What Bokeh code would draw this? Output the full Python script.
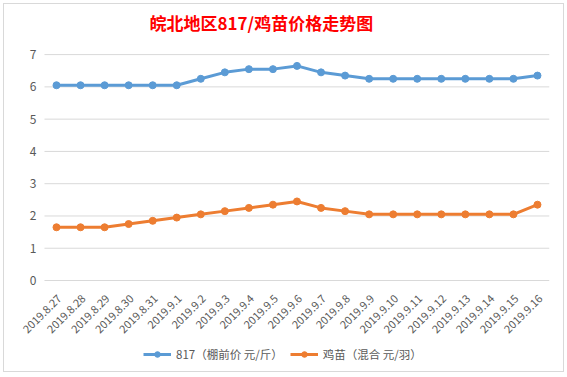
import math
from bokeh.plotting import figure
from bokeh.models import Legend, LegendItem, Title, Range1d
from bokeh.core.properties import value
from bokeh.embed import file_html
from bokeh.resources import INLINE

dates = ["2019.8.27", "2019.8.28", "2019.8.29", "2019.8.30", "2019.8.31",
         "2019.9.1", "2019.9.2", "2019.9.3", "2019.9.4", "2019.9.5", "2019.9.6",
         "2019.9.7", "2019.9.8", "2019.9.9", "2019.9.10", "2019.9.11", "2019.9.12",
         "2019.9.13", "2019.9.14", "2019.9.15", "2019.9.16"]
price_817 = [6.05, 6.05, 6.05, 6.05, 6.05, 6.05, 6.25, 6.45, 6.55, 6.55, 6.65,
             6.45, 6.35, 6.25, 6.25, 6.25, 6.25, 6.25, 6.25, 6.25, 6.35]
price_chick = [1.65, 1.65, 1.65, 1.75, 1.85, 1.95, 2.05, 2.15, 2.25, 2.35, 2.45,
               2.25, 2.15, 2.05, 2.05, 2.05, 2.05, 2.05, 2.05, 2.05, 2.35]
y_ticks = [0, 1, 2, 3, 4, 5, 6, 7]
y_tick_labels = ["0", "1", "2", "3", "4", "5", "6", "7"]
title_text = "皖北地区817/鸡苗价格走势图"
name_817 = "817（棚前价 元/斤）"
name_chick = "鸡苗（混合 元/羽）"

BLUE = "#5B9BD5"
ORANGE = "#ED7D31"
GRAY = "#595959"
GRID = "#D9D9D9"
FONT = "Noto Sans CJK SC"

# category positions (index of each date)
xi = list(range(len(dates)))
n = len(dates)

p = figure(width=561, height=369, x_range=Range1d(-1.58, n - 0.5),
           y_range=Range1d(-2.85, 7.53),
           output_backend="svg", toolbar_location=None,
           x_axis_location=None, y_axis_location=None,
           min_border_left=14, min_border_right=16, min_border_top=33,
           min_border_bottom=1)
p.styles = {"margin": "3px", "border": "1px solid #D9D9D9"}
p.title = None
p.outline_line_color = None
p.background_fill_color = "white"
p.border_fill_color = "white"
p.xgrid.visible = False
p.ygrid.visible = False

# horizontal value gridlines spanning the category area
p.segment(x0=[-0.5] * len(y_ticks), y0=y_ticks, x1=[n - 0.5] * len(y_ticks),
          y1=y_ticks, line_color=GRID, line_width=1)

# value tick labels
p.text(x=[-0.5] * len(y_ticks), y=y_ticks, text=y_tick_labels,
       text_align="right", text_baseline="middle", x_offset=-8,
       text_color=GRAY, text_font=value(FONT), text_font_size="12px")

# category labels along the value-0 line
p.text(x=xi, y=[0] * n, text=dates, angle=math.pi / 4,
       text_align="right", text_baseline="middle", x_offset=3, y_offset=16,
       text_color=GRAY, text_font=value(FONT), text_font_size="11px")

l1 = p.line(xi, price_817, line_color=BLUE, line_width=3)
s1 = p.scatter(xi, price_817, size=7, fill_color=BLUE, line_color=BLUE)
l2 = p.line(xi, price_chick, line_color=ORANGE, line_width=3)
s2 = p.scatter(xi, price_chick, size=7, fill_color=ORANGE, line_color=ORANGE)

legend = Legend(items=[LegendItem(label=name_817, renderers=[l1, s1]),
                       LegendItem(label=name_chick, renderers=[l2, s2])],
                location=(125, 10), orientation="horizontal",
                border_line_color=None, background_fill_alpha=0,
                label_text_font=FONT, label_text_font_size="11.5px",
                label_text_color=GRAY, glyph_width=28, glyph_height=14,
                spacing=7, padding=0, margin=0, label_standoff=5,
                label_height=14)
p.add_layout(legend, "center")

t = Title(text=title_text, align="left", offset=131, standoff=6, text_font=FONT,
          text_font_size="17px", text_font_style="bold", text_color="#FF0000")
p.add_layout(t, "above")

open("out.html", "w").write(file_html(p, INLINE))
